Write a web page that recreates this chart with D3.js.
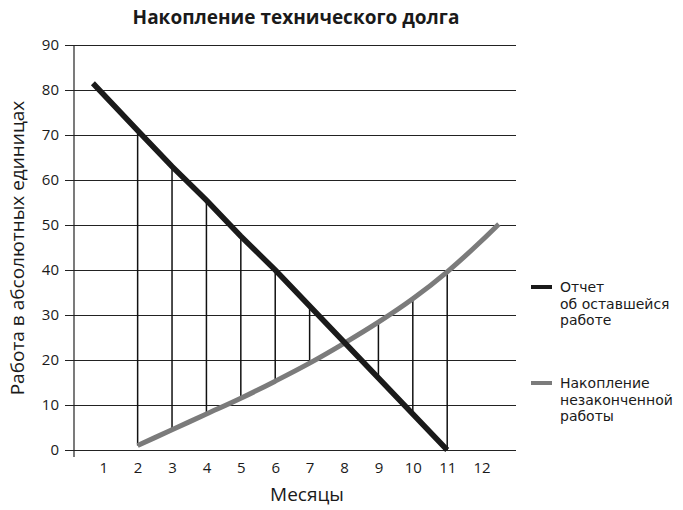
<!DOCTYPE html>
<html lang="ru">
<head>
<meta charset="UTF-8"/>
<title>Накопление технического долга</title>
<script src="https://d3js.org/d3.v7.min.js"></script>
<style>
    body { margin: 0; background: #fff; }
    svg { font-family: "Open Sans", "Noto Sans", sans-serif; }
</style>
</head>
<body>
<script>
    // data
    var months = [1, 2, 3, 4, 5, 6, 7, 8, 9, 10, 11, 12];
    var yTicks = [0, 10, 20, 30, 40, 50, 60, 70, 80, 90];

    // "Отчет об оставшейся работе" (black straight line)
    var remainingX = [0.7, 2, 3, 4, 5, 6, 7, 8, 9, 10, 11];
    var remainingY = [81.5, 71, 63, 55.5, 47.5, 40, 32, 24, 16, 8, 0];

    // "Накопление незаконченной работы" (grey curve)
    var unfinishedX = [2, 3, 4, 5, 6, 7, 8, 9, 10, 11, 12, 12.5];
    var unfinishedY = [1, 4.5, 8, 11.5, 15.3, 19.3, 23.7, 28.4, 33.6, 39.6, 46.5, 50.2];

    // months where a vertical connector is drawn
    var connectorMonths = [2, 3, 4, 5, 6, 7, 9, 10, 11];

    var w = 683;
    var h = 510;

    var xScale = d3.scaleLinear().domain([0.15, 13]).range([74, 516]);
    var yScale = d3.scaleLinear().domain([0, 90]).range([450, 45]);

    var svg = d3.select("body")
                .append("svg")
                .attr("width", w)
                .attr("height", h);

    // title
    svg.append("text")
        .attr("x", 296)
        .attr("y", 24)
        .attr("text-anchor", "middle")
        .attr("font-weight", "bold")
        .attr("font-size", "19px")
        .attr("fill", "#1a1a1a")
        .text("Накопление технического долга");

    // horizontal grid + y ticks
    svg.append("g")
        .attr("transform", "translate(" + xScale.range()[1] + ",0)")
        .call(d3.axisLeft(yScale)
                .tickValues(yTicks)
                .tickSize(xScale.range()[1] - 65)
                .tickPadding(6))
        .call(function(g) {
            g.select(".domain").remove();
            g.selectAll(".tick line").attr("stroke", "#222").attr("stroke-width", 1.2);
            g.selectAll(".tick text")
                .attr("font-size", "15px")
                .attr("fill", "#1a1a1a")
                .attr("font-family", "\"Open Sans\", sans-serif");
        });

    // y axis line
    svg.append("line")
        .attr("x1", xScale.range()[0])
        .attr("x2", xScale.range()[0])
        .attr("y1", yScale(90))
        .attr("y2", yScale(0) + 7)
        .attr("stroke", "#222")
        .attr("stroke-width", 1.2);

    // x tick labels
    svg.append("g")
        .attr("transform", "translate(0," + yScale(0) + ")")
        .call(d3.axisBottom(xScale)
                .tickValues(months)
                .tickSize(0)
                .tickPadding(12)
                .tickFormat(d3.format("d")))
        .call(function(g) {
            g.select(".domain").remove();
            g.selectAll(".tick text")
                .attr("font-size", "15px")
                .attr("fill", "#1a1a1a")
                .attr("font-family", "\"Open Sans\", sans-serif");
        });

    // axis titles
    svg.append("text")
        .attr("x", 307)
        .attr("y", 501)
        .attr("text-anchor", "middle")
        .attr("font-size", "19px")
        .attr("fill", "#1a1a1a")
        .text("Месяцы");

    svg.append("text")
        .attr("transform", "translate(24,248) rotate(-90)")
        .attr("text-anchor", "middle")
        .attr("font-size", "19px")
        .attr("fill", "#1a1a1a")
        .text("Работа в абсолютных единицах");

    var remaining = remainingX.map(function(x, i) { return [x, remainingY[i]]; });
    var unfinished = unfinishedX.map(function(x, i) { return [x, unfinishedY[i]]; });

    function valueAt(xs, ys, m) {
        return ys[xs.indexOf(m)];
    }

    // vertical connectors between the two series
    svg.selectAll(".connector")
        .data(connectorMonths)
        .enter()
        .append("line")
        .attr("class", "connector")
        .attr("x1", function(d) { return xScale(d); })
        .attr("x2", function(d) { return xScale(d); })
        .attr("y1", function(d) { return yScale(valueAt(remainingX, remainingY, d)); })
        .attr("y2", function(d) { return yScale(valueAt(unfinishedX, unfinishedY, d)); })
        .attr("stroke", "#111")
        .attr("stroke-width", 1.5);

    svg.append("path")
        .datum(unfinished)
        .attr("d", d3.line()
                    .curve(d3.curveMonotoneX)
                    .x(function(d) { return xScale(d[0]); })
                    .y(function(d) { return yScale(d[1]); }))
        .attr("fill", "none")
        .attr("stroke", "#7b7b7b")
        .attr("stroke-width", 5);

    svg.append("path")
        .datum(remaining)
        .attr("d", d3.line()
                    .x(function(d) { return xScale(d[0]); })
                    .y(function(d) { return yScale(d[1]); }))
        .attr("fill", "none")
        .attr("stroke", "#1a1a1a")
        .attr("stroke-width", 5.5);

    // legend
    var legend = [
        { color: "#1a1a1a", lines: ["Отчет", "об оставшейся", "работе"], y: 287 },
        { color: "#7b7b7b", lines: ["Накопление", "незаконченной", "работы"], y: 383 }
    ];

    legend.forEach(function(item) {
        svg.append("line")
            .attr("x1", 531)
            .attr("x2", 552)
            .attr("y1", item.y)
            .attr("y2", item.y)
            .attr("stroke", item.color)
            .attr("stroke-width", 4);

        svg.selectAll(null)
            .data(item.lines)
            .enter()
            .append("text")
            .attr("x", 560)
            .attr("y", function(d, i) { return item.y + 5 + i * 16.7; })
            .attr("font-family", "\"DejaVu Sans\", sans-serif")
            .attr("font-size", "14px")
            .attr("fill", "#1a1a1a")
            .text(function(d) { return d; });
    });
</script>
</body>
</html>
